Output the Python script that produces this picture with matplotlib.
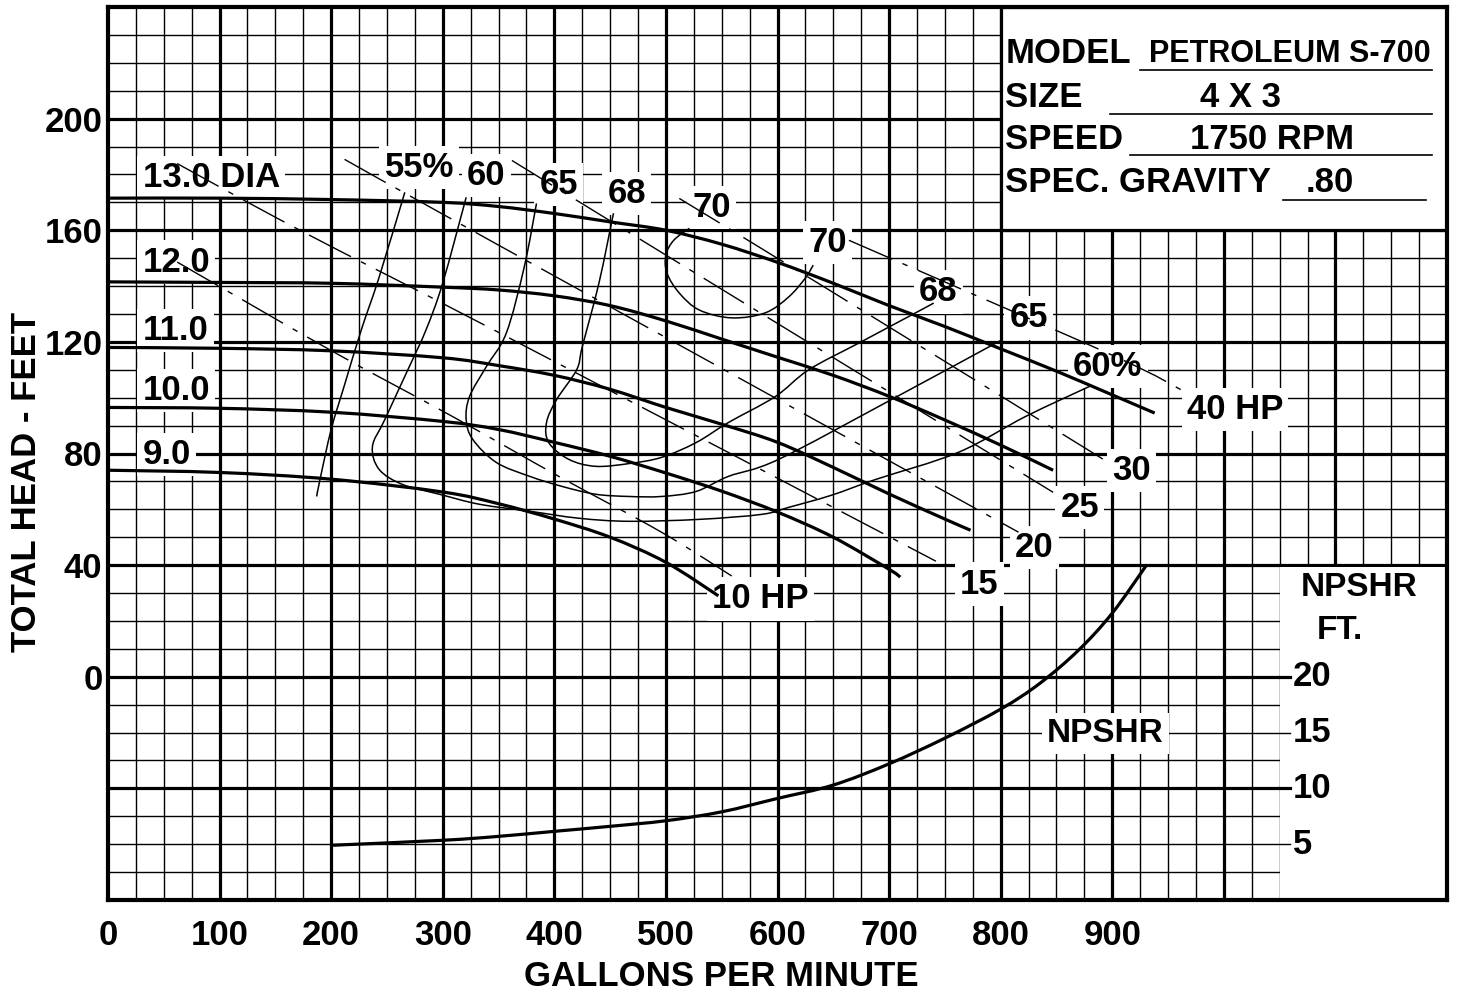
import matplotlib
matplotlib.use("Agg")
import matplotlib.pyplot as plt
from matplotlib.patches import Rectangle, PathPatch
from matplotlib.path import Path
import numpy as np

plt.rcParams['font.family'] = ['Liberation Sans', 'DejaVu Sans']
plt.rcParams['font.weight'] = 'bold'

## Impeller curves (gpm, total head ft)
dia_labels = ["13.0 DIA", "12.0", "11.0", "10.0", "9.0"]
dia_label_head = [178.9, 148.6, 124.0, 102.5, 79.6]
q_130 = [0, 100, 200, 300, 350, 400, 450, 500, 550, 600, 650, 700, 750, 800, 850, 900, 938]
h_130 = [171.5, 171.5, 171, 170, 168.5, 166, 163, 160, 155, 148.5, 141, 133, 125.5, 117.5, 109.5, 101, 94.5]
q_120 = [0, 100, 200, 300, 350, 400, 450, 500, 550, 600, 650, 700, 750, 800, 847]
h_120 = [141.5, 141.3, 141, 139.6, 138.6, 136.5, 133, 127.5, 121, 114.5, 108, 100.5, 92, 83, 74]
q_110 = [0, 100, 200, 300, 350, 400, 450, 500, 550, 600, 650, 700, 750, 773]
h_110 = [118, 117.7, 116.8, 114.3, 111.5, 108, 103, 96.5, 90.5, 84, 75, 65.5, 56.5, 52.5]
q_100 = [0, 100, 200, 300, 350, 400, 450, 500, 550, 600, 650, 700, 710]
h_100 = [96.5, 96.2, 94.8, 91.5, 88.6, 84, 79, 73, 66.5, 59, 50, 38.5, 35.7]
q_90 = [0, 100, 200, 300, 350, 400, 450, 500, 547]
h_90 = [74, 73.2, 70.8, 66.2, 62, 56.5, 50, 41, 29]

## Efficiency contours
q_e55 = [266, 243, 227, 212, 200, 190, 187]
h_e55 = [173.6, 143.2, 124.3, 104.6, 88.6, 70.7, 64.6]
q_e60 = [321, 300, 285, 270, 248, 237, 243, 264, 297, 333, 378, 422, 467, 530, 586, 610, 648, 688, 762, 822, 881]
h_e60 = [171.8, 141.1, 124.3, 111.1, 92.1, 82.5, 74.3, 68.9, 65.4, 61.8, 59.3, 56.8, 55.7, 56.4, 58.2, 60.7, 65.0, 70.7, 80.4, 93.2, 104.3]
q_e65 = [384, 373, 357, 339, 324, 321, 327, 348, 378, 407, 437, 467, 496, 527, 556, 601, 702, 800]
h_e65 = [169.6, 146.8, 123.2, 111.1, 100.4, 92.1, 85.0, 76.8, 71.8, 68.2, 65.4, 64.6, 64.6, 66.4, 71.8, 77.9, 99.3, 120.5]
q_e68 = [453, 440, 425, 420, 402, 393, 395, 413, 437, 467, 496, 527, 556, 598, 628, 673, 720, 740]
h_e68 = [166.1, 141.1, 118.2, 110, 99.3, 91.1, 83.9, 77.9, 75.4, 76.4, 78.6, 83.9, 91.1, 100.4, 110, 119.6, 129.6, 133.9]
q_e70 = [521, 507, 500, 501, 512, 530, 559, 589, 610, 625, 632]
h_e70 = [160.7, 156.4, 151.1, 144.6, 137.5, 131.4, 128.6, 130.4, 136.1, 142.9, 147.5]
eff_labels = ["55%", "60", "65", "68", "70", "70", "68", "65", "60%"]
eff_label_q = [279, 339, 404, 465, 541, 645, 744, 825, 896]
eff_label_h = [182.5, 179.6, 176.4, 173.2, 168.2, 155.7, 137.9, 128.6, 111.1]

## Horsepower lines
q_hp10 = [62, 199, 309, 404, 496, 559]
h_hp10 = [148.6, 117.1, 93.2, 71.8, 51.8, 36.1]
q_hp15 = [62, 172, 351, 742]
h_hp15 = [183.9, 160, 123.2, 41.4]
q_hp20 = [212, 353, 816]
h_hp20 = [185.4, 154.0, 51.8]
q_hp25 = [362, 500, 847]
h_hp25 = [185, 151.1, 66.1]
q_hp30 = [512, 643, 892]
h_hp30 = [171.4, 139.4, 77.9]
q_hp40 = [664, 899, 965]
h_hp40 = [156.4, 115.4, 102.1]
hp_labels = ["10 HP", "15", "20", "25", "30", "40 HP"]
hp_label_q = [585, 781, 830, 871, 917, 1010]
hp_label_h = [27.9, 33.2, 46.4, 60.7, 73.9, 95.7]

## NPSHR (ft) vs gpm
q_npshr = [200, 300, 350, 400, 450, 500, 550, 600, 650, 700, 750, 800, 835, 870, 900, 930]
npshr = [4.9, 5.35, 5.7, 6.15, 6.6, 7.1, 7.9, 9.1, 10.3, 12.2, 14.5, 17.1, 19.4, 22.4, 25.7, 29.9]
npshr_ticks = [5, 10, 15, 20]

x_ticks = [0, 100, 200, 300, 400, 500, 600, 700, 800, 900]
y_ticks = [0, 40, 80, 120, 160, 200]

info_keys = ["MODEL", "SIZE", "SPEED", "SPEC. GRAVITY"]
info_vals = ["PETROLEUM S-700", "4 X 3", "1750 RPM", ".80"]


def npshr_to_head(v):
    # right hand NPSHR scale: 0 ft sits at -80 ft head, 4 ft head per ft
    return np.asarray(v) * 4 - 80


def smooth(q, h):
    # catmull-rom through the read points, as cubic bezier segments
    pts = np.column_stack([q, h]).astype(float)
    n = len(pts)
    verts, codes = [pts[0]], [Path.MOVETO]
    for i in range(n - 1):
        p0 = pts[max(i - 1, 0)]
        p1, p2 = pts[i], pts[i + 1]
        p3 = pts[min(i + 2, n - 1)]
        verts += [p1 + (p2 - p0) / 6, p2 - (p3 - p1) / 6, p2]
        codes += [Path.CURVE4] * 3
    return Path(verts, codes)


def curve(ax, q, h, **kw):
    ax.add_patch(PathPatch(smooth(q, h), fill=False, edgecolor='black', zorder=3, **kw))


fig = plt.figure(figsize=(14.64, 9.98), dpi=100)
ax = fig.add_axes([108 / 1464, 98 / 998, 1339 / 1464, 893 / 998])
ax.set_xlim(0, 1200)
ax.set_ylim(-80, 240)

# graph paper
for x in np.arange(25, 1200, 25):
    ax.axvline(x, color='black', lw=2.3 if x % 100 == 0 else 1.0, zorder=1)
for y in np.arange(-70, 240, 10):
    ax.axhline(y, color='black', lw=2.3 if y % 40 == 0 else 1.0, zorder=1)

# blank boxes for the data block and the NPSHR scale
ax.add_patch(Rectangle((800, 160), 400, 80, facecolor='white', edgecolor='black', lw=2.3, zorder=1.5))
ax.add_patch(Rectangle((1050.5, -80), 149.5, 119.4, facecolor='white', edgecolor='none', zorder=1.5))
for v in npshr_ticks:
    h = npshr_to_head(v)
    ax.plot([1050, 1059], [h, h], color='black', lw=2.3 if h % 40 == 0 else 1.0, zorder=1.6)
    ax.text(1062, h, str(v), fontsize=25, ha='left', va='center', zorder=2)
ax.text(1121, 32, "NPSHR", fontsize=24, ha='center', va='center', zorder=2)
ax.text(1104, 16.4, "FT.", fontsize=24, ha='center', va='center', zorder=2)

box = dict(boxstyle='square,pad=0.15', facecolor='white', edgecolor='none')

# impeller curves
for q, h in [(q_130, h_130), (q_120, h_120), (q_110, h_110), (q_100, h_100), (q_90, h_90)]:
    curve(ax, q, h, lw=2.3, capstyle='butt')
for lab, h in zip(dia_labels, dia_label_head):
    ax.text(31, h, lab, fontsize=25, ha='left', va='center', bbox=box, zorder=2)

# efficiency
for q, h in [(q_e55, h_e55), (q_e60, h_e60), (q_e65, h_e65), (q_e68, h_e68), (q_e70, h_e70)]:
    curve(ax, q, h, lw=1.1)
for lab, q, h in zip(eff_labels, eff_label_q, eff_label_h):
    ax.text(q, h, lab, fontsize=25, ha='center', va='center', bbox=box, zorder=2)

# horsepower
dash = (0, (34, 8, 4, 8))
for q, h in [(q_hp10, h_hp10), (q_hp15, h_hp15), (q_hp20, h_hp20), (q_hp25, h_hp25),
             (q_hp30, h_hp30), (q_hp40, h_hp40)]:
    curve(ax, q, h, lw=1.0, linestyle=dash)
for lab, q, h in zip(hp_labels, hp_label_q, hp_label_h):
    ax.text(q, h, lab, fontsize=25, ha='center', va='center', bbox=box, zorder=2)

# NPSHR curve
curve(ax, q_npshr, npshr_to_head(npshr), lw=2.3)
ax.text(894, -20.4, "NPSHR", fontsize=24, ha='center', va='center', bbox=box, zorder=2)

# data block
key_h = [223.2, 207.5, 192.5, 177.1]
val_q = [1059, 1015, 1043, 1095]
val_size = [22, 25, 25, 25]
line_q = [(925, 1187), (898, 1187), (916, 1187), (1053, 1181)]
line_h = [217.6, 201.8, 186.8, 170.7]
for k, v, kh, vq, vs, lq, lh in zip(info_keys, info_vals, key_h, val_q, val_size, line_q, line_h):
    ax.text(804, kh, k, fontsize=25, ha='left', va='center', zorder=2)
    ax.text(vq, kh, v, fontsize=vs, ha='center', va='center', zorder=2)
    ax.plot(lq, [lh, lh], color='black', lw=1.2, zorder=2)

for s in ax.spines.values():
    s.set_linewidth(3)
ax.set_xticks(x_ticks)
ax.set_xticklabels([str(v) for v in x_ticks], fontsize=25)
ax.set_yticks(y_ticks)
ax.set_yticklabels([str(v) for v in y_ticks], fontsize=25)
ax.tick_params(length=0)
ax.tick_params(axis='y', pad=4)
ax.tick_params(axis='x', pad=14)

fig.text(721 / 1464, 1 - 977 / 998, "GALLONS PER MINUTE", fontsize=25, ha='center', va='center')
fig.text(27 / 1464, 1 - 482 / 998, "TOTAL HEAD - FEET", fontsize=25, rotation=90, ha='center', va='center')

fig.savefig("out.png", dpi=100)
